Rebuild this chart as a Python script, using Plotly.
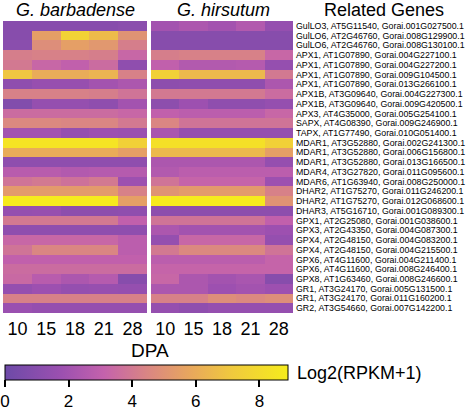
import plotly.graph_objects as go

dpa = ["10", "15", "18", "21", "28"]

genes = [
    "GulLO3, AT5G11540, Gorai.001G027500.1",
    "GulLO6, AT2G46760, Gorai.008G129900.1",
    "GulLO6, AT2G46760, Gorai.008G130100.1",
    "APX1, AT1G07890, Gorai.004G227100.1",
    "APX1, AT1G07890, Gorai.004G227200.1",
    "APX1, AT1G07890, Gorai.009G104500.1",
    "APX1, AT1G07890, Gorai.013G266100.1",
    "APX1B, AT3G09640, Gorai.004G227300.1",
    "APX1B, AT3G09640, Gorai.009G420500.1",
    "APX3, AT4G35000, Gorai.005G254100.1",
    "SAPX, AT4G08390, Gorai.009G246900.1",
    "TAPX, AT1G77490, Gorai.010G051400.1",
    "MDAR1, AT3G52880, Gorai.002G241300.1",
    "MDAR1, AT3G52880, Gorai.006G156800.1",
    "MDAR1, AT3G52880, Gorai.013G166500.1",
    "MDAR4, AT3G27820, Gorai.011G095600.1",
    "MDAR6, AT1G63940, Gorai.008G250000.1",
    "DHAR2, AT1G75270, Gorai.011G246200.1",
    "DHAR2, AT1G75270, Gorai.012G068600.1",
    "DHAR3, AT5G16710, Gorai.001G089300.1",
    "GPX1, AT2G25080, Gorai.001G038600.1",
    "GPX3, AT2G43350, Gorai.004G087300.1",
    "GPX4, AT2G48150, Gorai.004G083200.1",
    "GPX4, AT2G48150, Gorai.004G215500.1",
    "GPX6, AT4G11600, Gorai.004G211400.1",
    "GPX6, AT4G11600, Gorai.008G246400.1",
    "GPX8, AT1G63460, Gorai.008G246600.1",
    "GR1, AT3G24170, Gorai.005G131500.1",
    "GR1, AT3G24170, Gorai.011G160200.1",
    "GR2, AT3G54660, Gorai.007G142200.1",
]

barbadense = [
    [1.0, 1.0, 1.0, 1.0, 1.1],
    [1.0, 5.5, 7.6, 6.6, 5.0],
    [1.1, 4.8, 5.5, 5.2, 4.2],
    [4.2, 4.3, 4.3, 4.2, 3.3],
    [4.0, 3.3, 3.0, 3.5, 1.3],
    [7.0, 6.0, 6.0, 6.3, 4.3],
    [1.3, 1.6, 1.6, 2.0, 2.3],
    [4.3, 4.3, 4.3, 4.2, 3.8],
    [0.8, 1.5, 1.5, 1.3, 2.0],
    [3.5, 3.5, 3.5, 3.5, 3.3],
    [4.6, 4.6, 4.5, 4.5, 4.0],
    [2.0, 2.0, 1.5, 1.8, 1.7],
    [8.5, 8.5, 8.5, 8.5, 7.5],
    [6.0, 6.0, 6.0, 6.0, 5.5],
    [1.3, 1.3, 1.3, 1.3, 1.3],
    [2.7, 2.7, 2.5, 2.6, 2.6],
    [3.8, 4.0, 3.7, 4.0, 1.8],
    [5.3, 5.3, 5.3, 5.3, 4.3],
    [8.8, 8.8, 8.8, 8.8, 5.5],
    [1.5, 1.6, 1.2, 1.2, 1.3],
    [4.0, 4.0, 4.0, 4.0, 3.0],
    [1.3, 1.3, 1.3, 1.3, 1.3],
    [3.3, 3.3, 3.3, 3.3, 2.8],
    [3.8, 4.5, 4.5, 4.5, 2.8],
    [3.0, 3.0, 3.0, 3.0, 3.0],
    [3.5, 3.5, 3.5, 3.5, 3.5],
    [3.4, 2.7, 2.3, 2.6, 1.0],
    [1.5, 1.8, 1.5, 1.6, 1.5],
    [4.3, 4.3, 4.3, 4.3, 4.3],
    [1.7, 1.5, 1.5, 1.5, 1.5],
]

hirsutum = [
    [2.0, 2.3, 2.0, 2.5, 1.5],
    [1.0, 1.0, 1.0, 1.0, 1.0],
    [1.0, 1.0, 1.0, 1.0, 1.0],
    [4.2, 4.3, 4.3, 4.3, 3.3],
    [3.0, 2.5, 2.5, 2.6, 1.5],
    [7.5, 6.5, 6.5, 6.5, 4.0],
    [1.2, 1.3, 1.3, 1.3, 2.3],
    [4.0, 4.0, 4.0, 4.0, 3.5],
    [1.2, 1.8, 1.3, 1.3, 1.5],
    [3.0, 2.8, 2.8, 2.8, 3.3],
    [4.5, 3.8, 3.8, 3.8, 3.8],
    [2.2, 1.5, 1.5, 1.5, 1.5],
    [8.3, 8.3, 8.3, 8.3, 7.5],
    [6.5, 6.5, 6.5, 6.5, 5.5],
    [2.3, 2.3, 2.3, 2.3, 1.5],
    [2.5, 2.8, 2.8, 2.8, 2.8],
    [3.8, 3.2, 3.2, 3.2, 1.8],
    [5.0, 5.3, 5.3, 5.3, 4.3],
    [8.8, 8.8, 8.8, 8.8, 5.0],
    [1.2, 1.2, 1.2, 1.2, 1.2],
    [3.8, 3.8, 3.8, 3.8, 3.0],
    [2.3, 2.0, 2.0, 2.0, 1.8],
    [1.5, 3.3, 3.3, 3.3, 1.5],
    [4.0, 4.6, 4.6, 4.6, 3.8],
    [2.8, 2.8, 2.8, 2.8, 3.2],
    [3.2, 3.2, 3.2, 3.2, 3.2],
    [3.3, 2.3, 2.0, 2.2, 1.0],
    [2.3, 2.3, 1.8, 2.0, 1.8],
    [4.3, 4.3, 4.8, 4.6, 4.8],
    [1.5, 1.3, 1.5, 1.5, 1.5],
]

colorscale = [
    [0.0, "#6d4aa8"],
    [0.2, "#9c50b0"],
    [0.35, "#c462ac"],
    [0.5, "#d98584"],
    [0.65, "#e8a65e"],
    [0.8, "#f0c93e"],
    [1.0, "#f6ec1c"],
]

W, H = 472, 410
FONT = "Liberation Sans, Arial, Helvetica, sans-serif"
ZMIN, ZMAX = 0, 8.9
rows = list(range(len(genes)))

fig = go.Figure()
fig.add_trace(go.Heatmap(
    z=barbadense, x=dpa, y=rows, xaxis="x", yaxis="y",
    colorscale=colorscale, zmin=ZMIN, zmax=ZMAX, showscale=False,
))
fig.add_trace(go.Heatmap(
    z=hirsutum, x=dpa, y=rows, xaxis="x2", yaxis="y2",
    colorscale=colorscale, zmin=ZMIN, zmax=ZMAX,
    colorbar=dict(
        orientation="h", x=5 / W, xanchor="left", y=1 - 365 / H, yanchor="top",
        len=283, lenmode="pixels", thickness=15, xpad=0, ypad=0,
        outlinecolor="black", outlinewidth=1,
        ticks="outside", ticklen=7, tickwidth=1.5, tickcolor="black",
        ticklabeloverflow="allow",
        tickvals=[0, 2, 4, 6, 8], tickfont=dict(size=17, color="black", family=FONT),
    ),
))

ydom = [1 - 313 / H, 1 - 21 / H]


def note(text, x, y, size, xanchor="center"):
    return dict(text=text, x=x / W, y=1 - y / H, xref="paper", yref="paper",
                xanchor=xanchor, yanchor="middle", showarrow=False,
                font=dict(size=size, color="black", family=FONT))


fig.update_layout(
    width=W, height=H,
    margin=dict(l=0, r=0, t=0, b=0, autoexpand=False),
    paper_bgcolor="white", plot_bgcolor="white",
    font=dict(family=FONT, color="black"),
    xaxis=dict(domain=[3 / W, 147 / W], anchor="y", type="category", automargin=False,
               tickfont=dict(size=18), ticks="", showline=False, showgrid=False,
               ticklabelstandoff=3),
    xaxis2=dict(domain=[151 / W, 293 / W], anchor="y2", type="category", automargin=False,
                tickfont=dict(size=18), ticks="", showline=False, showgrid=False,
                ticklabelstandoff=3),
    yaxis=dict(domain=ydom, anchor="x", autorange="reversed", showticklabels=False,
               automargin=False, ticks="", showgrid=False, zeroline=False),
    yaxis2=dict(domain=ydom, anchor="x2", autorange="reversed", side="right",
                automargin=False, tickmode="array", tickvals=rows, ticktext=genes,
                tickfont=dict(size=8.8), ticks="", showgrid=False, zeroline=False,
                ticklabelstandoff=2),
    annotations=[
        note("<i>G. barbadense</i>", 75, 10, 18),
        note("<i>G. hirsutum</i>", 223, 10, 18),
        note("Related Genes", 384, 10, 18),
        note("DPA", 150, 350, 19),
        note("Log2(RPKM+1)", 295, 373, 18, xanchor="left"),
    ],
)

fig.write_html("out.html", config={"displayModeBar": False},
               post_script="document.body.style.margin='0';")
